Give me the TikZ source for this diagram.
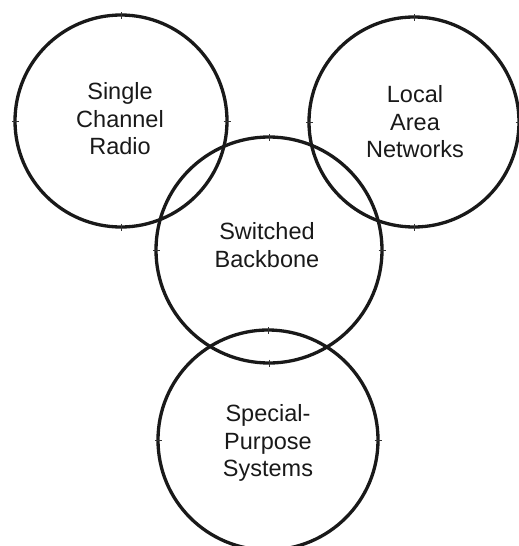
\documentclass[tikz,border=0pt]{standalone}
\usepackage{fontspec}
\setmainfont{Liberation Sans}
\usetikzlibrary{calc}
\begin{document}
\begin{tikzpicture}[x=1pt,y=-1pt,
  ring/.style={circle,draw=black!90,line width=3.3pt,inner sep=0pt,outer sep=0pt,minimum size=#1},
  tickmark/.style={draw=black!80,line width=0.9pt},
  caption/.style={align=center,font=\fontsize{23.5}{27.5}\selectfont,text=black!90}]
  \useasboundingbox (0,0) rectangle (519,546);
  % four overlapping rings
  \node[ring=212pt] (radio) at (121,121) {};
  \node[ring=210pt] (lan) at (414,122) {};
  \node[ring=226pt] (backbone) at (269,250) {};
  \node[ring=220pt] (special) at (268,440) {};
  % small registration ticks at the cardinal points of each ring
  \foreach \c in {radio,lan,backbone,special}
    \foreach \a in {north,south,east,west}
      \draw[tickmark] ($(\c.\a)!3.5pt!(\c.center)$) -- ($(\c.\a)!-3.5pt!(\c.center)$);
  % labels
  \node[caption] (tradio) at (120,119) {Single\\Channel\\Radio};
  \node[caption] (tlan) at (415,122) {Local\\Area\\Networks};
  \node[caption] (tbackbone) at (267,245) {Switched\\Backbone};
  \node[caption] (tspecial) at (268,443) {Special-\\Purpose\\Systems};
\end{tikzpicture}
\end{document}
